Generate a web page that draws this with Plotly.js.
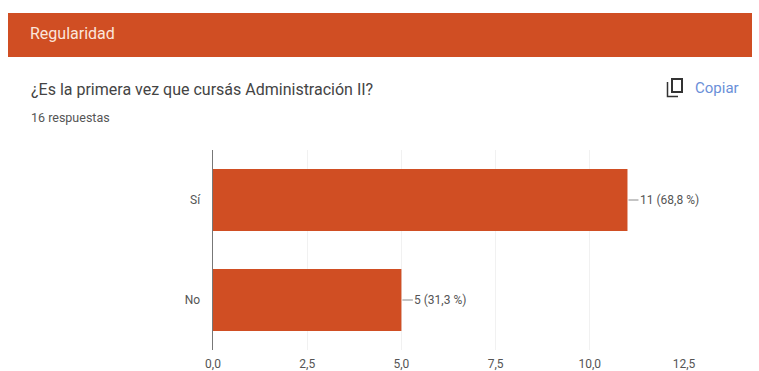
<!DOCTYPE html>
<html>
<head>
<meta charset="utf-8">
<script src="https://cdn.plot.ly/plotly-3.0.0.min.js"></script>
<style>html,body{margin:0;padding:0;background:#fff}#chart{width:759px;height:371px}</style>
</head>
<body>
<div id="chart"></div>
<script>
const categories = ['Sí', 'No'];
const responses = [11, 5];
const valueLabels = ['11 (68,8 %)', '5 (31,3 %)'];
const tickValues = [0, 2.5, 5, 7.5, 10, 12.5];
const tickLabels = ['0,0', '2,5', '5,0', '7,5', '10,0', '12,5'];
const sectionTitle = 'Regularidad';
const question = '¿Es la primera vez que cursás Administración II?';
const answerCount = '16 respuestas';
const copyLabel = 'Copiar';

const W = 759, H = 371;
const M = {l: 213, r: 75, t: 150, b: 21};
const FONT = 'Roboto, Arial, sans-serif';
const ACCENT = '#d04e23';

// Page coordinates (pixels from top-left) to paper coordinates
const px = x => (x - M.l) / (W - M.l - M.r);
const py = y => 1 - (y - M.t) / (H - M.t - M.b);

const pageText = (x, y, text, size, color, anchor) => ({
  xref: 'paper', yref: 'paper', x: px(x), y: py(y), text, showarrow: false,
  xanchor: anchor || 'left', yanchor: 'middle',
  font: {family: FONT, size, color}
});

const pageRect = (x0, y0, x1, y1, extra) => Object.assign({
  type: 'rect', xref: 'paper', yref: 'paper', layer: 'below',
  x0: px(x0), x1: px(x1), y0: py(y0), y1: py(y1), line: {width: 0}
}, extra);

const valueAnnotations = categories.map((c, i) => ({
  x: responses[i], y: c, xref: 'x', yref: 'y', text: valueLabels[i],
  showarrow: true, arrowhead: 0, arrowwidth: 1, arrowcolor: '#8a8a8a',
  ax: i === 0 ? 42 : 39, ay: 0, standoff: 1, xanchor: 'center',
  font: {family: FONT, size: 12, color: '#555'}
}));

const layout = {
  width: W, height: H,
  margin: M,
  paper_bgcolor: '#fff', plot_bgcolor: '#fff',
  showlegend: false,
  bargap: 0.38,
  xaxis: {
    range: [0, 12.5], tickvals: tickValues, ticktext: tickLabels,
    showgrid: true, gridcolor: '#f1f1f1', gridwidth: 1, zeroline: false,
    showline: false, ticks: '', fixedrange: true, ticklabelstandoff: 5,
    tickfont: {family: FONT, size: 12, color: '#555'}
  },
  yaxis: {
    type: 'category', categoryorder: 'array', categoryarray: categories,
    autorange: 'reversed', showgrid: false, zeroline: false,
    showline: true, linecolor: '#777', linewidth: 1.5, ticks: '', ticklen: 0,
    fixedrange: true, ticksuffix: '   ',
    tickfont: {family: FONT, size: 12, color: '#555'}
  },
  shapes: [
    pageRect(8, 13, 752, 57, {fillcolor: ACCENT}),
    // Copy icon: front sheet and the corner of the sheet behind it
    pageRect(672, 79, 682, 92, {fillcolor: 'rgba(0,0,0,0)', line: {color: '#333', width: 2}, layer: 'above'}),
    {type: 'path', xref: 'paper', yref: 'paper', layer: 'above',
     path: `M ${px(667.5)} ${py(82)} L ${px(667.5)} ${py(96.5)} L ${px(678)} ${py(96.5)}`,
     line: {color: '#333', width: 1.5}}
  ],
  annotations: [
    pageText(28, 34, sectionTitle, 16, '#fbe6dc'),
    pageText(29, 89, question, 16, '#444'),
    pageText(29, 117, answerCount, 12.5, '#555'),
    pageText(693, 88, copyLabel, 15, '#6a8fd8')
  ].concat(valueAnnotations)
};

Plotly.newPlot('chart', [{
  type: 'bar', orientation: 'h',
  y: categories, x: responses,
  marker: {color: ACCENT},
  hoverinfo: 'skip'
}], layout, {displayModeBar: false, staticPlot: true});
</script>
</body>
</html>
